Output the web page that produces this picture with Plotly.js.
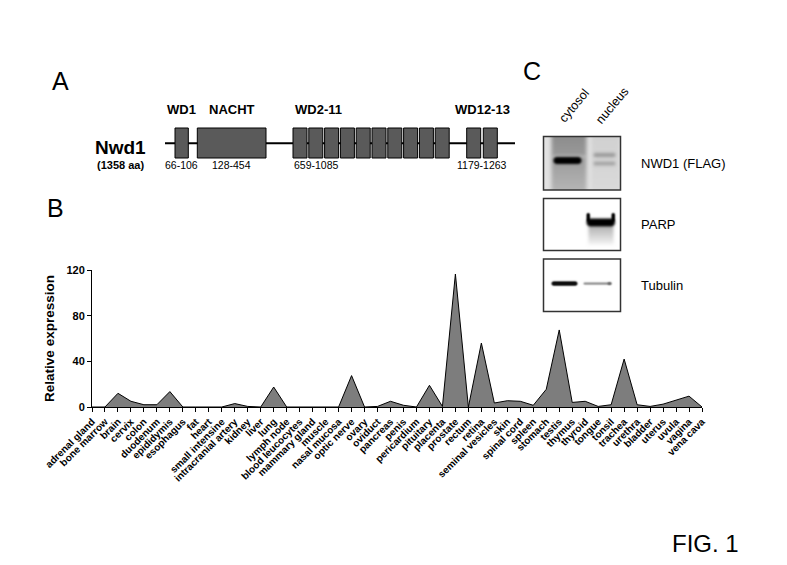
<!DOCTYPE html>
<html>
<head>
<meta charset="utf-8">
<script src="https://cdn.plot.ly/plotly-3.0.1.min.js"></script>
<style>
  html, body { margin: 0; padding: 0; background: #fff; }
  #plot { width: 787px; height: 565px; }
</style>
</head>
<body>
<div id="plot"></div>
<script>
// =========================
// Data
// =========================
const tissues = [
  'adrenal gland', 'bone marrow', 'brain', 'cervix', 'colon', 'duodenum',
  'epididymis', 'esophagus', 'fat', 'heart', 'small intensine',
  'intracranial artery', 'kidney', 'liver', 'lung', 'lymph node',
  'blood leucocytes', 'mammary gland', 'muscle', 'nasal mucosa',
  'optic nerve', 'ovary', 'oviduct', 'pancreas', 'penis', 'pericardium',
  'pituitary', 'placenta', 'prostate', 'rectum', 'retina',
  'seminal vesicles', 'skin', 'spinal cord', 'spleen', 'stomach', 'testis',
  'thymus', 'thyroid', 'tongue', 'tonsil', 'trachea', 'urethra', 'bladder',
  'uterus', 'uvula', 'vagina', 'vena cava'
];
const expression = [
  0, 0, 12, 5, 2, 2,
  13.5, 0, 0, 0, 0,
  3, 0.5, 0, 17.5, 0,
  0, 0, 0, 0,
  27.5, 0, 0.5, 5, 1.5, 0,
  19, 0.5, 116.5, 0, 56,
  3.5, 5.5, 5, 1.5, 15.5, 67.5,
  4, 5, 0.5, 2, 42, 2, 0.5,
  2.5, 6, 9.5, 0
];
const yTicks = [0, 40, 80, 120];

// panel A: protein domains
const proteinName = 'Nwd1';
const proteinLength = 1358;
const domainNames = ['WD1', 'NACHT', 'WD2-11', 'WD12-13'];
const domainRanges = ['66-106', '128-454', '659-1085', '1179-1263'];
const domainRepeats = [1, 1, 10, 2];

// panel C: fractionation blots
const lanes = ['cytosol', 'nucleus'];
const blotLabels = ['NWD1 (FLAG)', 'PARP', 'Tubulin'];
const nwd1Bands = [1.0, 0.15];
const parpBands = [0, 1.0];
const tubulinBands = [0.95, 0.35];

// =========================
// Helpers
// =========================
const W = 787, H = 565;
const FONT = 'Liberation Sans, Arial, sans-serif';
const px = x => x / W;
const py = y => 1 - y / H;

function rectShape(x0, y0, x1, y1, fill, line, lw) {
  return {
    type: 'rect', xref: 'paper', yref: 'paper',
    x0: px(x0), x1: px(x1), y0: py(y1), y1: py(y0),
    fillcolor: fill, line: { color: line, width: lw }, layer: 'above'
  };
}

function label(text, x, y, size, opts) {
  return Object.assign({
    text: text, x: px(x), y: py(y), xref: 'paper', yref: 'paper',
    showarrow: false, xanchor: 'center', yanchor: 'middle',
    font: { family: FONT, size: size, color: '#000' }
  }, opts || {});
}

function gray(level) {
  const g = Math.round(235 * (1 - level));
  return `rgb(${g},${g},${g})`;
}

function makeCanvas(w, h, draw) {
  const s = 4;
  const c = document.createElement('canvas');
  c.width = w * s; c.height = h * s;
  const ctx = c.getContext('2d');
  ctx.scale(s, s);
  draw(ctx, w, h, s);
  return c.toDataURL('image/png');
}

function band(ctx, s, x0, x1, yc, thick, color, blur) {
  ctx.save();
  ctx.filter = `blur(${blur * s}px)`;
  ctx.fillStyle = color;
  ctx.beginPath();
  ctx.roundRect(x0, yc - thick / 2, x1 - x0, thick, thick / 2);
  ctx.fill();
  ctx.restore();
}

function smear(ctx, s, x0, x1, y0, y1, c0, c1, blur) {
  ctx.save();
  ctx.filter = `blur(${blur * s}px)`;
  const g = ctx.createLinearGradient(0, y0, 0, y1);
  g.addColorStop(0, c0);
  g.addColorStop(1, c1);
  ctx.fillStyle = g;
  ctx.fillRect(x0, y0, x1 - x0, y1 - y0);
  ctx.restore();
}

// =========================
// Panel B: expression chart
// =========================
const data = [{
  type: 'scatter',
  mode: 'lines',
  x: tissues,
  y: expression,
  fill: 'tozeroy',
  fillcolor: '#7d7d7d',
  line: { color: '#000', width: 1 },
  hoverinfo: 'skip'
}];

const shapes = [];
const annotations = [];
const images = [];

// =========================
// Panel A: domain schematic
// =========================
const lineX0 = 165, lineX1 = 515, lineY = 143.3, boxTop = 128, boxBot = 158;
shapes.push({
  type: 'line', xref: 'paper', yref: 'paper',
  x0: px(lineX0), x1: px(lineX1), y0: py(lineY), y1: py(lineY),
  line: { color: '#000', width: 2 }
});
// schematic start / pitch / width of the boxes for each domain (not to scale)
const schemStart = [175, 197.3, 293, 466.7];
const schemWidth = [13.3, 68.7, 14, 14];
const schemPitch = [0, 0, 15.8, 16.6];
domainNames.forEach((name, i) => {
  for (let k = 0; k < domainRepeats[i]; k++) {
    const x0 = schemStart[i] + k * schemPitch[i];
    shapes.push(rectShape(x0, boxTop, x0 + schemWidth[i], boxBot, '#5a5a5a', '#000', 1));
  }
  const x0 = schemStart[i];
  const x1 = schemStart[i] + (domainRepeats[i] - 1) * schemPitch[i] + schemWidth[i];
  const leftAlign = domainRepeats[i] > 5;
  annotations.push(label('<b>' + name + '</b>', leftAlign ? x0 : (x0 + x1) / 2, 110, 13,
    { xanchor: leftAlign ? 'left' : 'center' }));
  annotations.push(label(domainRanges[i], leftAlign ? x0 - 1 : (x0 + x1) / 2, 164.5, 10.5,
    { xanchor: leftAlign ? 'left' : 'center' }));
});
annotations.push(label('<b>' + proteinName + '</b>', 120, 147, 19));
annotations.push(label('<b>(' + proteinLength + ' aa)</b>', 120, 165, 11));

// panel letters
annotations.push(label('A', 60, 81, 25));
annotations.push(label('B', 55, 208, 25));
annotations.push(label('C', 532, 71, 25));
annotations.push(label('FIG. 1', 705, 543, 24));

// =========================
// Panel C: blots
// =========================
const blotX0 = 543.5, blotX1 = 620.5;
const blotY = [[136.5, 190], [198.5, 250.5], [259, 311.5]];
const laneCenter = [574, 612];
lanes.forEach((ln, i) => {
  annotations.push(label(ln, laneCenter[i], 106, 12.5, { textangle: -50 }));
});
blotLabels.forEach((bl, i) => {
  const [y0, y1] = blotY[i];
  annotations.push(label(bl, 639, (y0 + y1) / 2 + 0.5, 13, { xanchor: 'left' }));
  shapes.push(rectShape(blotX0, y0, blotX1, y1, 'rgba(0,0,0,0)', '#333', 1.5));
});

const bw = blotX1 - blotX0;
images.push({
  source: makeCanvas(bw, blotY[0][1] - blotY[0][0], (ctx, w, h, s) => {
    ctx.fillStyle = '#e2e2e2';
    ctx.fillRect(0, 0, w, h);
    smear(ctx, s, 8, 43, -4, 20, '#8a8a8a', '#9a9a9a', 2);
    smear(ctx, s, 8, 43, 20, h + 4, '#9a9a9a', '#b8b8b8', 2);
    smear(ctx, s, 48, 76, -4, h + 4, '#d0d0d0', '#dadada', 2);
    band(ctx, s, 10, 38, 24, 7, gray(nwd1Bands[0]), 1);
    band(ctx, s, 50, 72, 18.5, 4, gray(nwd1Bands[1] + 0.2), 1.5);
    band(ctx, s, 50, 72, 27, 4, gray(nwd1Bands[1] + 0.15), 1.5);
  }),
  xref: 'paper', yref: 'paper', x: px(blotX0), y: py(blotY[0][0]),
  sizex: px(bw), sizey: (blotY[0][1] - blotY[0][0]) / H,
  xanchor: 'left', yanchor: 'top', sizing: 'stretch', layer: 'below'
});
images.push({
  source: makeCanvas(bw, blotY[1][1] - blotY[1][0], (ctx, w, h, s) => {
    ctx.fillStyle = '#fff';
    ctx.fillRect(0, 0, w, h);
    smear(ctx, s, 45, 70, 27, 46, '#b0b0b0', '#f4f4f4', 1.5);
    band(ctx, s, 43, 46.5, 19, 9, gray(parpBands[1]), 0.7);
    band(ctx, s, 68, 71.5, 19, 9, gray(parpBands[1]), 0.7);
    band(ctx, s, 43, 71.5, 24, 8, gray(parpBands[1]), 1);
  }),
  xref: 'paper', yref: 'paper', x: px(blotX0), y: py(blotY[1][0]),
  sizex: px(bw), sizey: (blotY[1][1] - blotY[1][0]) / H,
  xanchor: 'left', yanchor: 'top', sizing: 'stretch', layer: 'below'
});
images.push({
  source: makeCanvas(bw, blotY[2][1] - blotY[2][0], (ctx, w, h, s) => {
    ctx.fillStyle = '#fff';
    ctx.fillRect(0, 0, w, h);
    band(ctx, s, 8, 34, 24.5, 4.5, gray(tubulinBands[0]), 0.7);
    band(ctx, s, 40, 68, 24.5, 2.5, gray(tubulinBands[1]), 0.7);
    band(ctx, s, 64, 68, 24.5, 3, gray(tubulinBands[1] + 0.2), 0.7);
  }),
  xref: 'paper', yref: 'paper', x: px(blotX0), y: py(blotY[2][0]),
  sizex: px(bw), sizey: (blotY[2][1] - blotY[2][0]) / H,
  xanchor: 'left', yanchor: 'top', sizing: 'stretch', layer: 'below'
});

// =========================
// Layout
// =========================
const layout = {
  width: W,
  height: H,
  margin: { l: 0, r: 0, t: 0, b: 0 },
  paper_bgcolor: '#fff',
  plot_bgcolor: 'rgba(0,0,0,0)',
  showlegend: false,
  font: { family: FONT, color: '#000' },
  xaxis: {
    domain: [px(92), px(702)],
    type: 'category',
    range: [0, tissues.length - 1],
    showgrid: false,
    zeroline: false,
    showline: true,
    linecolor: '#000',
    linewidth: 1,
    ticks: 'outside',
    ticklen: 4,
    tickcolor: '#000',
    tickangle: -45,
    tickfont: { family: FONT, size: 10, weight: 'bold', color: '#000' }
  },
  yaxis: {
    domain: [py(407), py(270)],
    range: [0, 120],
    tickvals: yTicks,
    showgrid: false,
    zeroline: false,
    showline: true,
    linecolor: '#000',
    linewidth: 1,
    ticks: 'outside',
    ticklen: 4,
    tickcolor: '#000',
    tickfont: { family: FONT, size: 11, weight: 'bold', color: '#000' },
    title: {
      text: 'Relative expression',
      font: { family: FONT, size: 13.5, weight: 'bold', color: '#000' },
      standoff: 8
    }
  },
  shapes: shapes,
  annotations: annotations,
  images: images
};

Plotly.newPlot('plot', data, layout, { staticPlot: true, displayModeBar: false });
</script>
</body>
</html>
